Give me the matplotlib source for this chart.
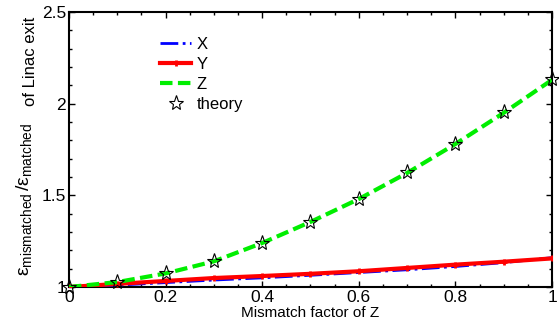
import matplotlib
matplotlib.use("Agg")
import matplotlib.pyplot as plt
from matplotlib.ticker import MultipleLocator

plt.rcParams['font.family'] = ['Liberation Sans', 'DejaVu Sans']
plt.rcParams['mathtext.fontset'] = 'custom'
plt.rcParams['mathtext.rm'] = 'Liberation Sans'
plt.rcParams['mathtext.it'] = 'Liberation Sans'

mismatch = [0.0, 0.1, 0.2, 0.3, 0.4, 0.5, 0.6, 0.7, 0.8, 0.9, 1.0]
x_emit = [1.0, 1.010, 1.024, 1.038, 1.050, 1.064, 1.079, 1.094, 1.112, 1.133, 1.160]
y_emit = [1.0, 1.017, 1.033, 1.049, 1.060, 1.072, 1.086, 1.104, 1.122, 1.138, 1.156]
z_emit = [1.0, 1.027, 1.074, 1.140, 1.240, 1.355, 1.480, 1.622, 1.780, 1.950, 2.130]
theory = [1.0, 1.027, 1.076, 1.142, 1.240, 1.355, 1.482, 1.625, 1.782, 1.952, 2.132]

W, H = 559, 332
fig = plt.figure(figsize=(W / 100, H / 100), dpi=100)
ax = fig.add_axes([0.1234, 0.1355, 0.8641, 0.8284])

ax.plot(mismatch, x_emit, color='#0000ff', linestyle='-.', lw=2, label='X', zorder=3)
ax.plot(mismatch, y_emit, color='#ff0000', linestyle='-', lw=3, marker='+', ms=5, mew=2, label='Y', zorder=4)
ax.plot(mismatch, z_emit, color='#00ee00', linestyle=(0, (3, 1.3)), lw=3, label='Z', zorder=5)
ax.plot(mismatch, theory, linestyle='none', marker='*', ms=11, mfc='none', mec='black', mew=0.8,
        label='theory', zorder=6, clip_on=False)

ax.set_xlim(0, 1)
ax.set_ylim(1, 2.5)
ax.set_xticks([0, 0.2, 0.4, 0.6, 0.8, 1.0])
ax.set_xticklabels(['0', '0.2', '0.4', '0.6', '0.8', '1'])
ax.set_yticks([1, 1.5, 2, 2.5])
ax.set_yticklabels(['1', '1.5', '2', '2.5'])
ax.xaxis.set_minor_locator(MultipleLocator(0.05))
ax.yaxis.set_minor_locator(MultipleLocator(0.1))
ax.tick_params(which='both', direction='in', top=True, right=True, labelsize=12.5)
ax.tick_params(which='major', length=4, width=1, pad=2)
ax.tick_params(which='minor', length=2, width=1)
for s in ax.spines.values():
    s.set_linewidth(1.5)

ax.set_xlabel('Mismatch factor of Z', fontsize=11, labelpad=1)

fig.text(28.5 / W, 1 - 276 / H,
         r'$\varepsilon_{\mathrm{mismatched}}\,/\varepsilon_{\mathrm{matched}}$',
         rotation=90, rotation_mode='anchor', ha='left', va='baseline', fontsize=14)
fig.text(35 / W, 1 - 17 / H, 'of Linac exit', rotation=90, rotation_mode='anchor',
         ha='right', va='baseline', fontsize=12)

leg = ax.legend(loc='upper left', bbox_to_anchor=(0.188, 0.908), frameon=False, fontsize=12,
                handlelength=1.9, handletextpad=0.3, labelspacing=0.3,
                borderaxespad=0, borderpad=0)

fig.savefig('out.png', dpi=100)
